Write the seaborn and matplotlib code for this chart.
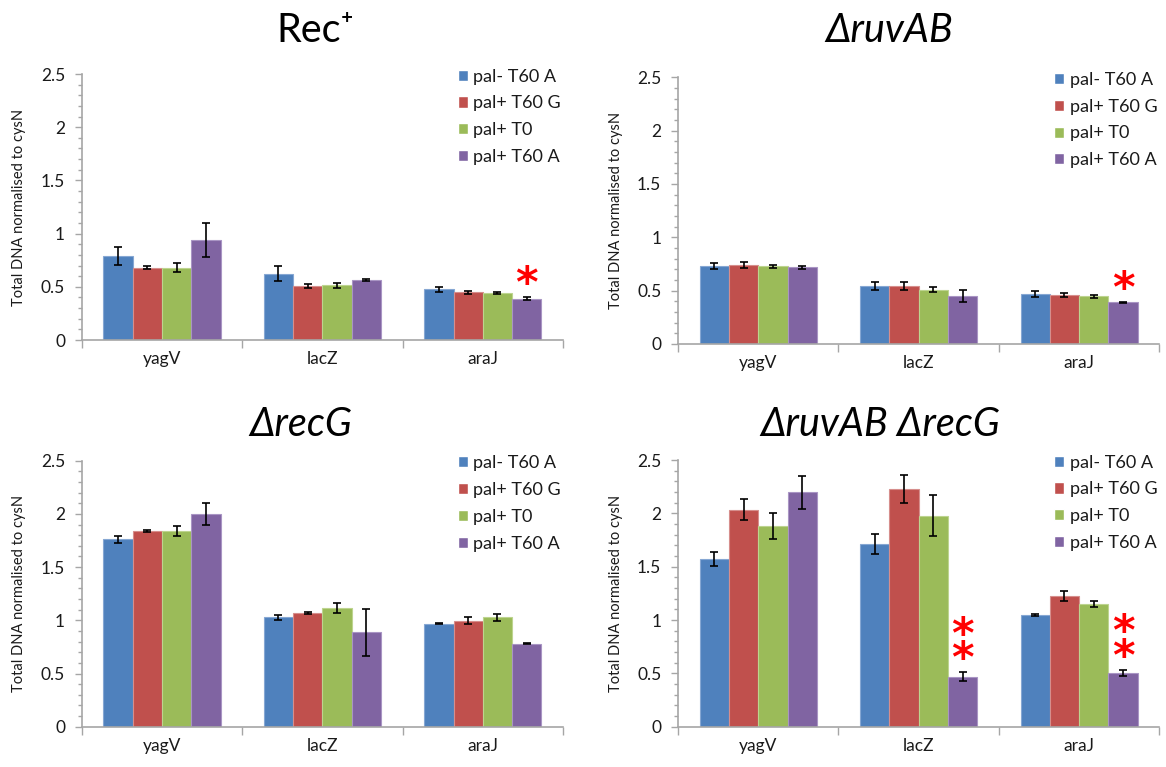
import matplotlib
matplotlib.use("Agg")
import matplotlib.pyplot as plt
import seaborn as sns
import pandas as pd
from matplotlib.ticker import MultipleLocator, FixedLocator, NullFormatter
from matplotlib.transforms import offset_copy

# ---------------- data ----------------
genes = ["yagV", "lacZ", "araJ"]
conditions = ["pal- T60 A", "pal+ T60 G", "pal+ T0", "pal+ T60 A"]
colors = ["#4F81BD", "#C0504D", "#9BBB59", "#8064A2"]
edge_colors = ["#86A7D3", "#D68E8C", "#BDD48F", "#A995C4"]

titles = ["Rec⁺", "ΔruvAB", "ΔrecG", "ΔruvAB ΔrecG"]
title_italic = [False, True, True, True]

# means per condition (rows) across genes (columns)
rec_means = [[0.79, 0.625, 0.475], [0.68, 0.505, 0.45], [0.68, 0.515, 0.44], [0.94, 0.56, 0.39]]
rec_errs = [[0.085, 0.07, 0.02], [0.015, 0.02, 0.015], [0.04, 0.025, 0.01], [0.16, 0.01, 0.01]]

ruv_means = [[0.73, 0.545, 0.47], [0.74, 0.545, 0.46], [0.73, 0.51, 0.447], [0.72, 0.447, 0.39]]
ruv_errs = [[0.025, 0.035, 0.03], [0.03, 0.04, 0.017], [0.015, 0.025, 0.017], [0.015, 0.055, 0.005]]

recg_means = [[1.76, 1.028, 0.966], [1.84, 1.07, 0.997], [1.84, 1.115, 1.028], [2.0, 0.8875, 0.778]]
recg_errs = [[0.03, 0.025, 0.005], [0.01, 0.01, 0.03], [0.05, 0.05, 0.035], [0.1, 0.22, 0.005]]

ruvrecg_means = [[1.575, 1.716, 1.05], [2.034, 2.23, 1.225], [1.88, 1.98, 1.15], [2.2, 0.47, 0.503]]
ruvrecg_errs = [[0.065, 0.095, 0.01], [0.1, 0.13, 0.045], [0.12, 0.19, 0.03], [0.155, 0.04, 0.03]]

panel_means = [rec_means, ruv_means, recg_means, ruvrecg_means]
panel_errs = [rec_errs, ruv_errs, recg_errs, ruvrecg_errs]

# significance stars on the "pal+ T60 A" bar: panel, gene, number of stars
star_panels = [0, 1, 3, 3]
star_genes = ["araJ", "araJ", "lacZ", "araJ"]
star_counts = [1, 1, 2, 2]

ylabel = "Total DNA normalised to cysN"

# ---------------- style ----------------
sns.set_theme(style="white")
plt.rcParams["font.family"] = ["Lato", "DejaVu Sans"]
spine_col = "#A6A6A6"
text_col = "#1A1A1A"

fig = plt.figure(figsize=(11.66, 7.67), dpi=100)

rects = [
    [0.0701, 0.5567, 0.4128, 0.3468],
    [0.5815, 0.5515, 0.4128, 0.3477],
    [0.0701, 0.0525, 0.4128, 0.3468],
    [0.5815, 0.0525, 0.4128, 0.3477],
]
title_pos = [(0.270, 0.960), (0.763, 0.960), (0.258, 0.446), (0.755, 0.446)]

for p in range(4):
    ax = fig.add_axes(rects[p])
    rows = []
    for ci, cond in enumerate(conditions):
        for gi, g in enumerate(genes):
            rows.append({"gene": g, "condition": cond, "value": panel_means[p][ci][gi]})
    df = pd.DataFrame(rows)
    sns.barplot(data=df, x="gene", y="value", hue="condition", order=genes,
                hue_order=conditions, palette=colors, saturation=1, width=0.73,
                errorbar=None, ax=ax, legend=True)
    bar_conts = list(ax.containers)
    # bar edges and error bars
    for ci, cont in enumerate(bar_conts):
        for gi, bar in enumerate(cont.patches):
            bar.set_edgecolor(edge_colors[ci])
            bar.set_linewidth(0.8)
            x = bar.get_x() + bar.get_width() / 2
            ax.errorbar(x, panel_means[p][ci][gi], yerr=panel_errs[p][ci][gi],
                        fmt="none", ecolor="black", elinewidth=1.2,
                        capsize=3.0, capthick=1.2, zorder=5)
    # stars
    for sp, sg, sc in zip(star_panels, star_genes, star_counts):
        if sp != p:
            continue
        gi = genes.index(sg)
        ci = len(conditions) - 1
        bar = bar_conts[ci].patches[gi]
        x = bar.get_x() + bar.get_width() / 2
        top = panel_means[p][ci][gi] + panel_errs[p][ci][gi]
        ax.text(x, top + 0.19 + 0.225 * (sc - 1) / 2, "\n".join(["*"] * sc),
                color="#FF0000", fontsize=31, ha="center", va="center",
                linespacing=0.47, family=["DejaVu Sans"], fontweight="bold",
                transform=offset_copy(ax.transData, fig=fig, y=-8, units="dots"))

    ax.set_xlim(-0.5, 2.5)
    ax.set_ylim(0, 2.5)
    ax.yaxis.set_minor_locator(MultipleLocator(0.1))
    ax.set_yticks([0, 0.5, 1, 1.5, 2, 2.5])
    ax.set_yticklabels(["0", "0.5", "1", "1.5", "2", "2.5"])
    ax.xaxis.set_major_locator(FixedLocator([-0.5, 0.5, 1.5, 2.5]))
    ax.xaxis.set_major_formatter(NullFormatter())
    ax.set_xticks([0, 1, 2], minor=True)
    ax.set_xticklabels(genes, minor=True)
    ax.tick_params(axis="x", which="major", direction="out", length=6, width=1,
                   color=spine_col, bottom=True)
    ax.tick_params(axis="x", which="minor", length=0, pad=8, labelsize=12.5,
                   labelcolor=text_col, bottom=True)
    ax.tick_params(axis="y", which="major", direction="out", length=5, width=1,
                   color=spine_col, pad=7, labelsize=12.5, labelcolor=text_col, left=True)
    ax.tick_params(axis="y", which="minor", direction="out", length=3, width=1,
                   color=spine_col, left=True)
    for s in ["top", "right"]:
        ax.spines[s].set_visible(False)
    for s in ["left", "bottom"]:
        ax.spines[s].set_color(spine_col)
        ax.spines[s].set_linewidth(1.2)
    ax.set_xlabel("")
    ax.set_ylabel(ylabel, fontsize=10.5, color=text_col)
    ax.yaxis.set_label_coords(-0.115, 0.5)

    h, l = ax.get_legend_handles_labels()
    ax.legend(h, l, loc="upper left", bbox_to_anchor=(0.755, 1.068), frameon=False,
              fontsize=13, handlelength=0.57, handleheight=0.57, handletextpad=0.3,
              labelspacing=0.6, borderpad=0.2, labelcolor=text_col)

    fig.text(title_pos[p][0], title_pos[p][1], titles[p], fontsize=28.5,
             ha="center", va="center", color="black",
             style="italic" if title_italic[p] else "normal",
             family=["Lato", "DejaVu Sans"])

fig.savefig("out.png", dpi=100)
